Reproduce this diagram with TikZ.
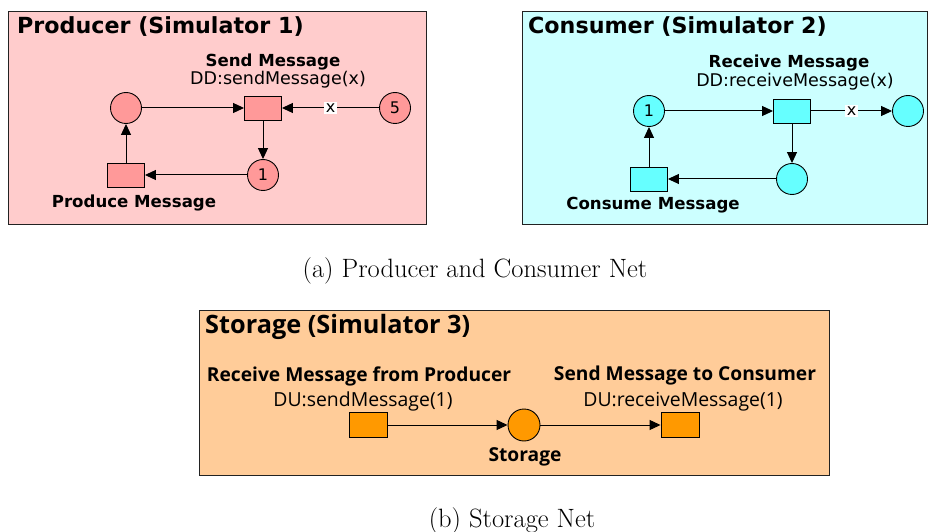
\documentclass[tikz,border=0pt]{standalone}
\usepackage{fontspec}
\usetikzlibrary{arrows.meta}
\newfontfamily\dv{DejaVu Sans}
\newfontfamily\ns{Open Sans}[BoldFont={Open Sans Bold}]
\definecolor{pbg}{HTML}{FFCCCC}
\definecolor{pfg}{HTML}{FF9999}
\definecolor{cbg}{HTML}{CCFFFF}
\definecolor{cfg}{HTML}{66FFFF}
\definecolor{sbg}{HTML}{FFCC99}
\definecolor{sfg}{HTML}{FF9900}
\definecolor{edge}{HTML}{222222}
\begin{document}
\begin{tikzpicture}[x=1pt,y=-1pt,
  netbox/.style={draw=edge, line width=1.3pt, anchor=north west, inner sep=0pt},
  place/.style={circle, draw=black, line width=0.9pt, minimum size=31pt, inner sep=0pt, font=\dv\fontsize{16}{16}\selectfont},
  trans/.style={rectangle, draw=black, line width=0.9pt, minimum width=37pt, minimum height=24pt, inner sep=0pt},
  arc/.style={-{Triangle[length=11pt,width=10pt]}, line width=1pt},
  xlab/.style={fill=white, inner sep=1.5pt, font=\dv\fontsize{16}{16}\selectfont},
  title/.style={anchor=west, inner sep=0pt, font=\dv\bfseries\fontsize{22.2}{22.2}\selectfont},
  tname/.style={inner sep=0pt, font=\dv\bfseries\fontsize{16.6}{16.6}\selectfont},
  tcode/.style={inner sep=0pt, font=\dv\fontsize{17.5}{17.5}\selectfont},
  stitle/.style={anchor=west, inner sep=0pt, font=\ns\bfseries\fontsize{25.3}{25.3}\selectfont},
  sname/.style={inner sep=0pt, font=\ns\bfseries\fontsize{19.2}{19.2}\selectfont},
  scode/.style={inner sep=0pt, font=\ns\fontsize{19.4}{19.4}\selectfont},
  caption/.style={inner sep=0pt, font=\fontsize{26.5}{26.5}\selectfont}
]
\useasboundingbox (0,0) rectangle (930,532);

% ---------- Producer ----------
\node[netbox, fill=pbg, minimum width=418pt, minimum height=213pt] (prodbox) at (8,11) {};
\node[title] (prodtitle) at (17,27) {Producer (Simulator 1)};
\node[place, fill=pfg] (pp1) at (126,108) {};
\node[trans, fill=pfg] (psend) at (263,108) {};
\node[place, fill=pfg] (pp5) at (395,108) {5};
\node[place, fill=pfg] (pp2) at (263,175) {1};
\node[trans, fill=pfg] (pprod) at (126,175) {};
\node[tname] (psendname) at (273,62) {Send Message};
\node[tcode] (psendcode) at (278,80) {DD:sendMessage(x)};
\node[tname] (pprodname) at (134,203) {Produce Message};
\draw[arc] (pp1) -- (psend);
\draw[arc] (pp5) -- node[xlab] (px) {x} (psend);
\draw[arc] (psend) -- (pp2);
\draw[arc] (pp2) -- (pprod);
\draw[arc] (pprod) -- (pp1);

% ---------- Consumer ----------
\node[netbox, fill=cbg, minimum width=405pt, minimum height=213pt] (consbox) at (522,11) {};
\node[title] (constitle) at (528,27) {Consumer (Simulator 2)};
\node[place, fill=cfg] (cp1) at (649,111) {1};
\node[trans, fill=cfg] (crecv) at (792,111) {};
\node[place, fill=cfg] (cp3) at (908,111) {};
\node[place, fill=cfg] (cp2) at (792,179) {};
\node[trans, fill=cfg] (ccons) at (649,179) {};
\node[tname] (crecvname) at (789,63) {Receive Message};
\node[tcode] (crecvcode) at (795,82) {DD:receiveMessage(x)};
\node[tname] (cconsname) at (653,205) {Consume Message};
\draw[arc] (cp1) -- (crecv);
\draw[arc] (crecv) -- node[xlab] (cx) {x} (cp3);
\draw[arc] (crecv) -- (cp2);
\draw[arc] (cp2) -- (ccons);
\draw[arc] (ccons) -- (cp1);

\node[caption] (capa) at (475,271) {(a) Producer and Consumer Net};

% ---------- Storage ----------
\node[netbox, fill=sbg, minimum width=630pt, minimum height=165pt] (storbox) at (199,310) {};
\node[stitle] (stortitle) at (205,327) {Storage (Simulator 3)};
\node[trans, fill=sfg, minimum width=38pt, minimum height=25pt] (srecv) at (368,425) {};
\node[place, fill=sfg, minimum size=32pt] (sstore) at (524,425) {};
\node[trans, fill=sfg, minimum width=38pt, minimum height=25pt] (ssend) at (680,425) {};
\node[sname] (srecvname) at (359,376) {Receive Message from Producer};
\node[scode] (srecvcode) at (363,401) {DU:sendMessage(1)};
\node[sname] (ssendname) at (685,376) {Send Message to Consumer};
\node[scode] (ssendcode) at (683,402) {DU:receiveMessage(1)};
\node[sname] (sstorename) at (525,457) {Storage};
\draw[arc] (srecv) -- (sstore);
\draw[arc] (sstore) -- (ssend);

\node[caption] (capb) at (512,521) {(b) Storage Net};
\end{tikzpicture}
\end{document}
